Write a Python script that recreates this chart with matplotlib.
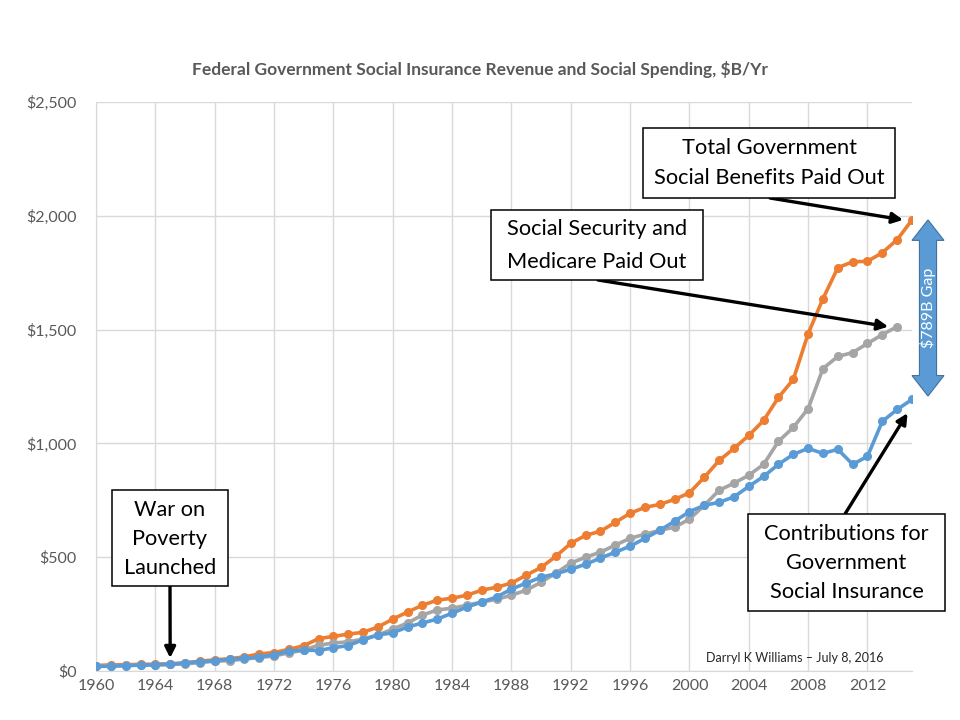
import numpy as np
import matplotlib.pyplot as plt
from matplotlib.patches import Rectangle, Polygon
from matplotlib.transforms import blended_transform_factory
from matplotlib.ticker import FuncFormatter

plt.rcParams['font.family'] = ['Lato', 'DejaVu Sans']

years = np.arange(1960, 2016)

# Total government social benefits paid out, $B
total_benefits = [24, 27, 28, 29, 30, 32, 35, 43, 49, 54,
                  62, 75, 81, 95, 111, 142, 152, 162, 170, 193,
                  228, 259, 289, 311, 320, 333, 355, 368, 386, 421,
                  455, 504, 561, 596, 614, 653, 693, 719, 732, 754,
                  783, 851, 925, 978, 1035, 1101, 1202, 1281, 1482, 1636,
                  1772, 1798, 1800, 1838, 1895, 1982]

# Social Security and Medicare paid out, $B (through 2014)
ss_medicare = [20, 23, 25, 26, 27, 29, 31, 37, 43, 46,
               52, 59, 66, 80, 92, 113, 123, 128, 140, 158,
               184, 211, 246, 268, 276, 289, 303, 315, 333, 355,
               390, 430, 474, 500, 522, 553, 583, 601, 618, 632,
               667, 728, 794, 825, 860, 908, 1009, 1070, 1153, 1329,
               1382, 1399, 1439, 1478, 1513]

# Contributions for government social insurance, $B
contributions = [20, 21, 23, 26, 27, 29, 36, 41, 45, 51,
                 56, 62, 71, 87, 92, 90, 102, 112, 137, 158,
                 168, 193, 211, 228, 254, 281, 303, 325, 360, 386,
                 412, 427, 447, 469, 496, 522, 548, 583, 618, 658,
                 700, 728, 741, 765, 811, 855, 908, 952, 978, 956,
                 974, 908, 943, 1097, 1149, 1193]

xtick_years = list(range(1960, 2013, 4))
yticks = [0, 500, 1000, 1500, 2000, 2500]

ORANGE = '#ED7D31'
GRAY = '#A5A5A5'
BLUE = '#5B9BD5'
TXT = '#595959'

fig = plt.figure(figsize=(9.6, 7.2), dpi=100)
ax = fig.add_axes([96 / 960, 1 - 671 / 720, (912 - 96) / 960, (671 - 102) / 720])

lw, ms = 2.6, 5.5
ax.plot(years, total_benefits, color=ORANGE, lw=lw, marker='o', ms=ms, zorder=3)
ax.plot(years[:len(ss_medicare)], ss_medicare, color=GRAY, lw=lw, marker='o', ms=ms, zorder=4)
ax.plot(years, contributions, color=BLUE, lw=lw, marker='o', ms=ms, zorder=5)

ax.set_xlim(1960, 2015)
ax.set_ylim(0, 2500)
ax.set_xticks(xtick_years)
ax.set_yticks(yticks)
ax.yaxis.set_major_formatter(FuncFormatter(lambda v, p: r'\$' + f'{int(v):,}'))
ax.grid(True, color='#D9D9D9', lw=1)
ax.set_axisbelow(True)
ax.tick_params(length=0, labelsize=11.5, labelcolor=TXT)
ax.tick_params(axis='y', pad=14)
ax.tick_params(axis='x', pad=6)
for s in ['top', 'right']:
    ax.spines[s].set_visible(False)
for s in ['left', 'bottom']:
    ax.spines[s].set_color('#D9D9D9')

fig.text(0.5, 1 - 70 / 720, r'Federal Government Social Insurance Revenue and Social Spending, \$B/Yr',
         ha='center', va='center', fontsize=12.5, fontweight='bold', color=TXT)


def text_box(x0, y0, x1, y1, lines, line_y, size=15.7):
    fig.add_artist(Rectangle((x0 / 960, 1 - y1 / 720), (x1 - x0) / 960, (y1 - y0) / 720,
                             transform=fig.transFigure, fc='white', ec='black', lw=1.1, zorder=3))
    for t, yy in zip(lines, line_y):
        fig.text((x0 + x1) / 2 / 960, 1 - yy / 720, t, ha='center', va='center',
                 fontsize=size, color='black', zorder=4)


arrow = dict(arrowstyle='-|>', color='black', lw=2.4, mutation_scale=16, shrinkA=0, shrinkB=0)

text_box(112, 490, 228, 586, ['War on', 'Poverty', 'Launched'], [510, 539, 568])
ax.annotate('', xy=(1965, total_benefits[5] + 25), xytext=(170, 720 - 586),
            textcoords='figure pixels', arrowprops=arrow, annotation_clip=False)

text_box(491, 210, 703, 280, ['Social Security and', 'Medicare Paid Out'], [229, 262])
ax.annotate('', xy=(2013.4, ss_medicare[-1]), xytext=(598, 720 - 280),
            textcoords='figure pixels', arrowprops=arrow, annotation_clip=False)

text_box(643, 128, 895, 198, ['Total Government', 'Social Benefits Paid Out'], [148, 178])
ax.annotate('', xy=(2014.4, total_benefits[-1]), xytext=(770, 720 - 198),
            textcoords='figure pixels', arrowprops=arrow, annotation_clip=False)

text_box(748, 514, 945, 611, ['Contributions for', 'Government', 'Social Insurance'], [534, 563, 592])
ax.annotate('', xy=(2014.7, contributions[-1] - 60), xytext=(845, 720 - 514),
            textcoords='figure pixels', arrowprops=arrow, annotation_clip=False)

fig.text(795 / 960, 1 - 658 / 720, 'Darryl K Williams \u2013 July 8, 2016',
         ha='center', va='center', fontsize=9, color='#262626')

# double-headed gap arrow
tr = blended_transform_factory(ax.transAxes, ax.transData)
xc, hw, Hw, hl = 1.0196, 0.0105, 0.0196, 90
top, bot = total_benefits[-1], contributions[-1] + 15
pts = [(xc, top), (xc + Hw, top - hl), (xc + hw, top - hl), (xc + hw, bot + hl),
       (xc + Hw, bot + hl), (xc, bot), (xc - Hw, bot + hl), (xc - hw, bot + hl),
       (xc - hw, top - hl), (xc - Hw, top - hl)]
ax.add_patch(Polygon(pts, closed=True, transform=tr, fc=BLUE, ec='#41719C', lw=0.8,
                     clip_on=False, zorder=6))
ax.text(xc, (top + bot) / 2, r'\$789B Gap', transform=tr, rotation=90, ha='center', va='center',
        color='white', fontsize=11.5, zorder=7, clip_on=False)

fig.savefig('out.png', dpi=100)
